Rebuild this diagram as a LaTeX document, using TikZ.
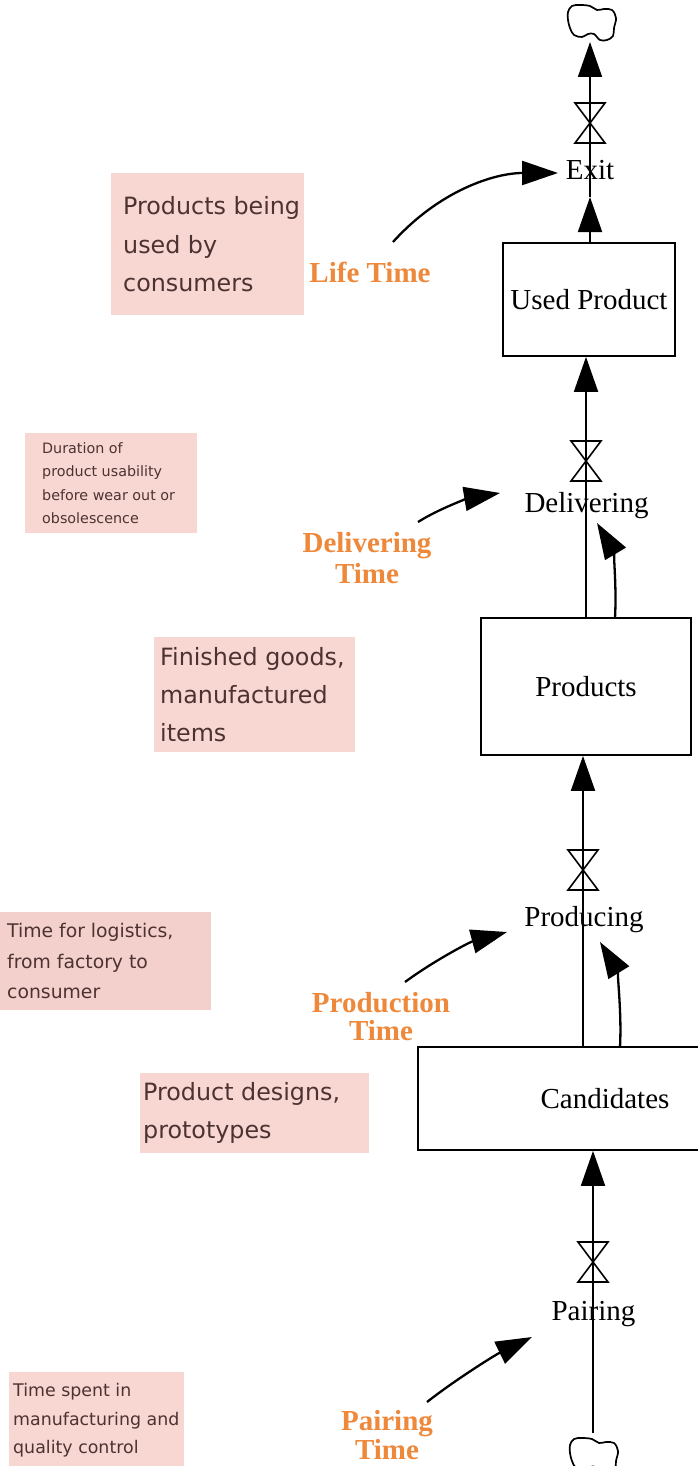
\documentclass[tikz,border=0pt]{standalone}
\usepackage{fontspec}
\setmainfont{Liberation Serif}
\newfontfamily\notefont{DejaVu Sans}
\usetikzlibrary{arrows.meta}
\definecolor{noteFill}{RGB}{248,215,210}
\definecolor{noteFillB}{RGB}{243,208,203}
\definecolor{noteText}{RGB}{77,50,50}
\definecolor{timeOrange}{RGB}{238,136,58}
\newcommand{\notelines}[3]{\parbox[c]{#1}{\parindent=0pt\leftskip=#2\relax #3}}
\tikzset{
  stockbox/.style={draw, line width=1.7pt, rectangle, inner sep=0pt, font=\fontsize{29}{31}\selectfont},
  flowlabel/.style={inner sep=0pt, font=\fontsize{29}{31}\selectfont},
  timelabel/.style={inner sep=0pt, text=timeOrange, align=center, font=\fontsize{29}{28.5}\selectfont\bfseries},
  notebox/.style={fill=noteFill, inner sep=0pt, text=noteText, anchor=north west},
  flowline/.style={line width=1.8pt, -{Triangle[length=35pt,width=24pt]}},
  infolink/.style={line width=2.3pt, -{Triangle[length=36pt,width=24pt]}},
  valve/.pic={\draw[line width=1.6pt, line join=miter] (-15,-20) -- (15,-20) -- (0,0) -- cycle (-15,20) -- (15,20) -- (0,0) -- cycle;},
  cloudpic/.pic={\draw[line width=1.7pt] plot[smooth cycle, tension=0.6] coordinates {(-24,-11) (-20,-17) (-12,-18) (-2,-17) (5,-13) (12,-14) (20,-13) (24,-5) (22,5) (21,13) (15,17) (8,17) (2,11) (-4,11) (-10,14) (-18,12) (-22,5) (-24,-3)};},
}
\begin{document}
\begin{tikzpicture}[x=1pt, y=-1pt]
\useasboundingbox (0,0) rectangle (698,1466);
\fill[white] (0,0) rectangle (698,1466);
\clip (0,0) rectangle (698,1466);

% notes
\node[notebox, minimum width=193pt, minimum height=142pt, font=\notefont\fontsize{23.8}{38.5}\selectfont] (n1) at (111,173)
  {\notelines{193pt}{12pt}{\mbox{Products being}\\\mbox{used by}\\\mbox{consumers}}};
\node[notebox, minimum width=172pt, minimum height=100pt, font=\notefont\fontsize{14.3}{23.5}\selectfont] (n2) at (25,433)
  {\notelines{172pt}{17pt}{\mbox{Duration of}\\\mbox{product usability}\\\mbox{before wear out or}\\\mbox{obsolescence}}};
\node[notebox, minimum width=201pt, minimum height=115pt, font=\notefont\fontsize{23.8}{38}\selectfont] (n3) at (154,637)
  {\notelines{201pt}{6pt}{\mbox{Finished goods,}\\\mbox{manufactured}\\\mbox{items}}};
\node[notebox, fill=noteFillB, minimum width=211pt, minimum height=98pt, font=\notefont\fontsize{18.8}{30.5}\selectfont] (n4) at (0,912)
  {\notelines{211pt}{7pt}{\mbox{Time for logistics,}\\\mbox{from factory to}\\\mbox{consumer}}};
\node[notebox, minimum width=229pt, minimum height=80pt, font=\notefont\fontsize{23.8}{38}\selectfont] (n5) at (140,1073)
  {\notelines{229pt}{3pt}{\mbox{Product designs,}\\\mbox{prototypes}}};
\node[notebox, minimum width=175pt, minimum height=96pt, font=\notefont\fontsize{17.4}{28.5}\selectfont] (n6) at (9,1372)
  {\notelines{175pt}{4pt}{\mbox{Time spent in}\\\mbox{manufacturing and}\\\mbox{quality control}}};

% stocks
\node[stockbox, minimum width=172pt, minimum height=113pt] (used) at (589,299.5) {Used Product};
\node[stockbox, minimum width=210pt, minimum height=137pt] (products) at (586,686.5) {Products};
\node[stockbox, minimum width=374pt, minimum height=103pt] (cand) at (605,1098.5) {Candidates};

% clouds
\begin{scope}[shift={(592,23)}]
  \pic {cloudpic};
\end{scope}
\begin{scope}[shift={(594,1456)}, yscale=-1]
  \pic {cloudpic};
\end{scope}
\coordinate (cloudTb) at (590,42);
\coordinate (cloudBt) at (593,1433);

% valve centres
\coordinate (vExit) at (590,123);
\coordinate (vDeliv) at (586,461);
\coordinate (vProd) at (583,870);
\coordinate (vPair) at (593,1262);
\coordinate (exitArr) at (590,197);

% flows
\draw[flowline] (used.north -| exitArr) -- (exitArr);
\draw[flowline] (exitArr) -- (cloudTb);
\draw[flowline] (products.north -| vDeliv) -- (used.south -| vDeliv);
\draw[flowline] (cand.north -| vProd) -- (products.south -| vProd);
\draw[flowline] (cloudBt) -- (cand.south -| vPair);

\pic at (vExit) {valve};
\pic at (vDeliv) {valve};
\pic at (vProd) {valve};
\pic at (vPair) {valve};

% flow labels
\node[flowlabel, anchor=base] (exitL) at (590,180) {Exit};
\node[flowlabel, anchor=base] (delivL) at (586.5,512) {Delivering};
\node[flowlabel, anchor=base] (prodL) at (584,926) {Producing};
\node[flowlabel, anchor=base] (pairL) at (593.5,1320) {Pairing};

% time labels
\node[timelabel, anchor=base] (lifeT) at (370,282) {Life Time};
\node[timelabel] (delivT) at (367,558) {Delivering\\[3pt]Time};
\node[timelabel] (prodT) at (381,1016.5) {Production\\Time};
\node[timelabel] (pairT) at (387,1435) {Pairing\\Time};

% info links
\coordinate (ltS) at (393,242);
\coordinate (ltE) at (558,173);
\draw[infolink] (ltS) .. controls (440,190) and (495,173) .. (ltE);
\coordinate (dtS) at (418,522);
\coordinate (dtE) at (500,493);
\draw[infolink] (dtS) .. controls (440,508) and (470,498) .. (dtE);
\coordinate (ptS) at (405,982);
\coordinate (ptE) at (507,932);
\draw[infolink] (ptS) .. controls (435,960) and (470,942) .. (ptE);
\coordinate (paS) at (427,1402);
\coordinate (paE) at (532,1337);
\draw[infolink] (paS) .. controls (455,1380) and (495,1355) .. (paE);
\coordinate (dlS) at (615,618);
\coordinate (dlE) at (597,523);
\draw[infolink] (dlS) .. controls (617,580) and (612,548) .. (dlE);
\coordinate (plS) at (620,1047);
\coordinate (plE) at (600,942);
\draw[infolink] (plS) .. controls (622,1008) and (616,968) .. (plE);
\end{tikzpicture}
\end{document}
